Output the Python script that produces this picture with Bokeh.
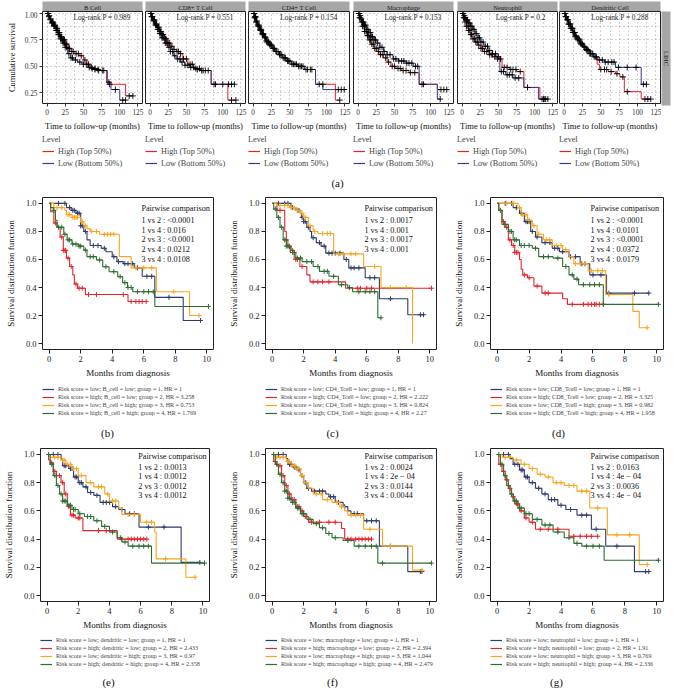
import numpy as np
from bokeh.plotting import figure
from bokeh.layouts import column, row
from bokeh.models import Range1d, Legend, LegendItem, FixedTicker, PrintfTickFormatter, Spacer
from bokeh.core.properties import value
from bokeh.embed import file_html
from bokeh.resources import INLINE

SERIF = "Liberation Serif"

# ---------------- panel (a): TIMER style KM curves ----------------
a_cells = ["B Cell", "CD8+ T Cell", "CD4+ T Cell", "Macrophage", "Neutrophil", "Dendritic Cell"]
a_pvals = ["0.989", "0.551", "0.154", "0.153", "0.2", "0.288"]
a_xticks = [0, 25, 50, 75, 100, 125]
a_yticks = [0.25, 0.50, 0.75, 1.00]

bcell_hi_t = [0, 2, 4, 6, 9, 12, 15, 18, 21, 25, 29, 33, 38, 44, 50, 55, 60, 68, 83, 108, 118]
bcell_hi_s = [1, 0.98, 0.95, 0.92, 0.89, 0.86, 0.82, 0.78, 0.75, 0.71, 0.67, 0.64, 0.62, 0.60, 0.56, 0.52, 0.48, 0.46, 0.33, 0.22, 0.22]
bcell_hi_c = [1, 3, 5, 7, 8, 10, 11, 13, 14, 16, 17, 19, 20, 22, 23, 24, 26, 27, 30, 31, 34, 36, 40, 43, 47, 52, 57, 62, 66, 71, 76, 86, 113, 118]
bcell_lo_t = [0, 2, 4, 6, 9, 12, 15, 18, 21, 25, 28, 32, 36, 42, 48, 56, 64, 72, 82, 88, 100, 108]
bcell_lo_s = [1, 0.97, 0.94, 0.91, 0.88, 0.84, 0.80, 0.76, 0.72, 0.68, 0.62, 0.58, 0.56, 0.54, 0.52, 0.49, 0.47, 0.46, 0.35, 0.28, 0.18, 0.18]
bcell_lo_c = [1.5, 2.5, 4.5, 6.5, 8, 9.5, 11, 12.5, 14, 15.5, 17, 18.5, 20, 22, 24, 25, 27, 30, 33, 35, 39, 45, 50, 54, 58, 61, 66, 70, 78, 85, 94, 104, 108]

cd8_hi_t = [0, 2, 4, 7, 10, 13, 16, 20, 24, 28, 32, 36, 40, 45, 52, 60, 70, 84, 107, 118]
cd8_hi_s = [1, 0.97, 0.94, 0.90, 0.87, 0.83, 0.80, 0.76, 0.72, 0.69, 0.66, 0.64, 0.62, 0.57, 0.52, 0.48, 0.46, 0.33, 0.18, 0.18]
cd8_hi_c = [1, 2, 3, 5, 6, 8, 9, 11, 12, 14, 15, 17, 18, 21, 22, 25, 27, 30, 33, 37, 39, 42, 46, 50, 55, 58, 63, 68, 73, 80, 88, 112, 118]
cd8_lo_t = [0, 2, 4, 7, 10, 13, 16, 20, 24, 28, 32, 36, 42, 48, 55, 62, 70, 84, 116]
cd8_lo_s = [1, 0.97, 0.93, 0.89, 0.85, 0.81, 0.77, 0.72, 0.68, 0.64, 0.60, 0.57, 0.54, 0.51, 0.49, 0.47, 0.46, 0.33, 0.33]
cd8_lo_c = [1.5, 3, 4.5, 6, 7.5, 9, 10.5, 12, 13.5, 15, 16.5, 18, 19.5, 21, 23, 26, 28, 31, 34, 38, 41, 44, 48, 52, 56, 60, 65, 71, 76, 90, 100, 108, 112, 116]

cd4_hi_t = [0, 2, 4, 6, 9, 12, 15, 18, 22, 26, 30, 35, 40, 46, 52, 60, 70, 85, 112, 118]
cd4_hi_s = [1, 0.96, 0.92, 0.88, 0.84, 0.80, 0.77, 0.73, 0.70, 0.67, 0.64, 0.61, 0.58, 0.55, 0.52, 0.50, 0.47, 0.33, 0.18, 0.18]
cd4_hi_c = [1, 2, 3, 4, 5, 7, 8, 10, 11, 13, 14, 16, 17, 19, 21, 23, 25, 28, 31, 34, 37, 41, 44, 48, 53, 57, 62, 66, 74, 80, 95, 118]
cd4_lo_t = [0, 2, 4, 6, 9, 12, 15, 18, 22, 26, 30, 35, 40, 46, 52, 60, 70, 85, 95, 124]
cd4_lo_s = [1, 0.97, 0.93, 0.89, 0.85, 0.81, 0.78, 0.74, 0.71, 0.67, 0.64, 0.61, 0.58, 0.55, 0.52, 0.50, 0.47, 0.33, 0.28, 0.28]
cd4_lo_c = [1.5, 2.5, 3.5, 5, 6.5, 8, 9.5, 11, 12.5, 14, 16, 18, 20, 22, 24, 27, 29, 32, 36, 39, 43, 47, 50, 55, 59, 64, 68, 72, 78, 90, 116, 120, 124]

mac_hi_t = [0, 2, 4, 6, 9, 12, 15, 18, 22, 26, 30, 35, 40, 45, 52, 60, 70, 84, 109, 122]
mac_hi_s = [1, 0.96, 0.92, 0.88, 0.83, 0.79, 0.75, 0.71, 0.67, 0.64, 0.61, 0.58, 0.54, 0.50, 0.48, 0.46, 0.44, 0.33, 0.28, 0.28]
mac_hi_c = [1, 2, 3, 5, 6, 8, 9, 11, 13, 14, 16, 17, 19, 21, 23, 25, 28, 31, 34, 38, 42, 47, 50, 55, 58, 62, 66, 72, 78, 88, 114, 118, 122]
mac_lo_t = [0, 2, 4, 6, 9, 12, 15, 18, 22, 26, 30, 35, 40, 48, 56, 66, 76, 84, 109, 113]
mac_lo_s = [1, 0.98, 0.95, 0.92, 0.89, 0.85, 0.82, 0.78, 0.75, 0.72, 0.68, 0.64, 0.61, 0.57, 0.55, 0.53, 0.50, 0.33, 0.19, 0.19]
mac_lo_c = [1.5, 3, 4.5, 6, 7.5, 9, 10.5, 12, 13.5, 15, 17, 19, 20, 22, 24, 27, 30, 33, 36, 40, 44, 49, 52, 56, 60, 63, 67, 70, 74, 79, 82, 90, 113]

neu_hi_t = [0, 2, 4, 6, 9, 12, 15, 18, 22, 26, 30, 36, 42, 48, 55, 65, 75, 85, 107, 115]
neu_hi_s = [1, 0.96, 0.92, 0.88, 0.84, 0.80, 0.76, 0.73, 0.70, 0.67, 0.64, 0.61, 0.59, 0.57, 0.49, 0.47, 0.45, 0.30, 0.19, 0.19]
neu_hi_c = [1, 2, 3, 4, 6, 7, 9, 10, 12, 13, 15, 17, 19, 21, 23, 26, 28, 31, 34, 38, 41, 45, 49, 53, 58, 62, 67, 70, 74, 80, 110, 113, 115]
neu_lo_t = [0, 2, 4, 6, 9, 12, 15, 18, 22, 26, 30, 36, 42, 48, 52, 60, 70, 85, 105, 118]
neu_lo_s = [1, 0.98, 0.96, 0.94, 0.91, 0.88, 0.85, 0.81, 0.77, 0.73, 0.69, 0.65, 0.62, 0.59, 0.45, 0.42, 0.39, 0.30, 0.19, 0.19]
neu_lo_c = [1.5, 3, 4.5, 6, 7.5, 9, 10.5, 12, 13.5, 15, 16.5, 18, 20, 22, 24, 26, 29, 32, 35, 38, 42, 46, 50, 54, 57, 62, 65, 69, 73, 78, 90, 112, 118]

den_hi_t = [0, 2, 4, 6, 9, 12, 15, 18, 22, 26, 30, 35, 40, 45, 48, 60, 70, 76, 82, 105, 118]
den_hi_s = [1, 0.97, 0.94, 0.90, 0.86, 0.82, 0.78, 0.75, 0.71, 0.68, 0.65, 0.62, 0.59, 0.52, 0.47, 0.45, 0.43, 0.40, 0.26, 0.19, 0.19]
den_hi_c = [1, 2, 3, 5, 6, 8, 9, 11, 12, 14, 15, 17, 19, 21, 23, 25, 28, 31, 33, 36, 39, 43, 50, 55, 58, 64, 72, 80, 86, 110, 114, 118]
den_lo_t = [0, 2, 4, 6, 9, 12, 15, 18, 22, 26, 30, 35, 40, 46, 55, 70, 105, 112]
den_lo_s = [1, 0.97, 0.94, 0.90, 0.86, 0.82, 0.79, 0.76, 0.72, 0.69, 0.66, 0.62, 0.59, 0.56, 0.54, 0.49, 0.33, 0.33]
den_lo_c = [1.5, 2.5, 4, 5.5, 7, 8.5, 10, 11.5, 13, 14.5, 16, 18, 20, 22, 24, 27, 30, 32, 35, 38, 41, 44, 48, 52, 56, 60, 65, 68, 74, 86, 98, 108, 112]

# ---------------- panels (b)-(g): four-group KM curves ----------------
bg_xticks = [0, 2, 4, 6, 8, 10]
bg_yticks = [0.0, 0.2, 0.4, 0.6, 0.8, 1.0]

b_g1_t = [0, 1.1, 1.4, 1.7, 2.0, 2.2, 2.4, 2.6, 3.3, 3.6, 4.0, 4.3, 4.7, 5.4, 5.9, 6.7, 8.5, 9.6]
b_g1_s = [1, 0.97, 0.95, 0.93, 0.84, 0.80, 0.74, 0.70, 0.68, 0.655, 0.62, 0.585, 0.57, 0.54, 0.48, 0.33, 0.165, 0.165]
b_g1_c = [0.6, 1.0, 1.3, 1.5, 1.6, 1.8, 1.9, 2.0, 2.1, 2.3, 2.8, 3.1, 3.5, 4.1, 4.4, 4.8, 5.0, 5.3, 5.6, 6.2, 6.5, 7.6, 9.6]
b_g2_t = [0, 0.1, 0.3, 0.5, 0.7, 0.9, 1.1, 1.3, 1.5, 1.6, 1.8, 2.3, 5.0, 6.15]
b_g2_s = [1, 0.94, 0.86, 0.83, 0.76, 0.665, 0.61, 0.55, 0.49, 0.425, 0.395, 0.35, 0.30, 0.30]
b_g2_c = [0.4, 0.8, 0.9, 1.0, 1.05, 1.2, 1.4, 1.7, 1.9, 2.1, 2.5, 3.0, 4.7, 5.2, 5.5, 5.7, 5.9, 6.15]
b_g3_t = [0, 0.3, 1.0, 1.1, 1.45, 2.0, 2.2, 2.4, 2.6, 3.2, 4.45, 5.2, 6.8, 8.9, 9.5]
b_g3_s = [1, 0.97, 0.95, 0.92, 0.90, 0.87, 0.84, 0.82, 0.80, 0.78, 0.62, 0.54, 0.37, 0.20, 0.20]
b_g3_c = [0.5, 0.8, 1.2, 1.3, 1.5, 1.6, 1.7, 1.8, 2.1, 2.3, 2.7, 3.0, 3.5, 3.7, 3.9, 4.1, 5.5, 6.0, 6.5, 7.9, 9.5]
b_g4_t = [0, 0.1, 0.27, 0.4, 0.5, 0.93, 1.14, 1.45, 1.86, 2.2, 2.4, 3.0, 3.4, 3.8, 4.35, 4.66, 4.97, 5.3, 6.7, 10.1]
b_g4_s = [1, 0.97, 0.95, 0.88, 0.83, 0.78, 0.74, 0.71, 0.695, 0.667, 0.62, 0.596, 0.548, 0.513, 0.478, 0.435, 0.40, 0.37, 0.265, 0.265]
b_g4_c = [0.3, 0.6, 0.8, 1.0, 1.2, 1.3, 1.5, 1.7, 1.9, 2.0, 2.3, 2.6, 2.8, 3.2, 3.6, 4.1, 4.5, 4.8, 5.0, 5.2, 5.6, 6.0, 6.3, 6.6, 10.1]
b_pairs = ["Pairwise comparison", "1 vs 2 : <0.0001", "1 vs 4 : 0.016", "2 vs 3 : <0.0001", "2 vs 4 : 0.0212", "3 vs 4 : 0.0108"]
b_legend = ["Risk score = low; B_cell = low; group = 1, HR = 1",
            "Risk score = high; B_cell = low; group = 2, HR = 3.258",
            "Risk score = low; B_cell = high; group = 3, HR = 0.753",
            "Risk score = high; B_cell = high; group = 4, HR = 1.769"]

c_g1_t = [0, 1.2, 1.5, 1.8, 1.86, 2.0, 2.2, 2.4, 2.5, 2.8, 3.1, 3.4, 4.55, 4.86, 5.9, 6.8, 8.6, 9.6]
c_g1_s = [1, 0.97, 0.95, 0.93, 0.90, 0.87, 0.83, 0.80, 0.755, 0.72, 0.695, 0.645, 0.60, 0.54, 0.47, 0.32, 0.206, 0.206]
c_g1_c = [0.4, 0.8, 1.0, 1.3, 1.6, 1.7, 1.9, 2.0, 2.1, 2.3, 2.6, 3.0, 3.3, 3.6, 3.8, 4.0, 4.3, 4.7, 5.0, 5.2, 5.5, 6.2, 6.5, 7.5, 9.4, 9.6]
c_g2_t = [0, 0.3, 0.8, 0.9, 1.0, 1.2, 1.4, 1.76, 2.2, 2.4, 4.66, 10.1]
c_g2_s = [1, 0.95, 0.80, 0.74, 0.69, 0.665, 0.60, 0.55, 0.49, 0.44, 0.395, 0.395]
c_g2_c = [0.5, 0.9, 1.1, 1.3, 1.5, 1.6, 1.9, 2.6, 2.9, 3.2, 3.6, 5.4, 5.6, 6.0, 6.3, 10.1]
c_g3_t = [0, 0.3, 1.1, 1.5, 1.8, 2.0, 2.3, 2.6, 2.9, 3.9, 5.8, 6.9, 8.9, 8.9]
c_g3_s = [1, 0.985, 0.97, 0.95, 0.93, 0.90, 0.84, 0.80, 0.785, 0.64, 0.55, 0.40, 0.0, 0.0]
c_g3_c = [0.5, 0.8, 1.0, 1.2, 1.4, 1.6, 1.9, 2.1, 2.4, 2.7, 3.2, 3.5, 3.7, 4.2, 4.5, 5.0, 5.3, 6.5, 7.5, 8.5]
c_g4_t = [0, 0.1, 0.3, 0.5, 0.7, 0.9, 1.15, 1.5, 1.9, 2.6, 3.0, 3.6, 4.2, 4.8, 5.1, 6.7, 6.9]
c_g4_s = [1, 0.96, 0.90, 0.83, 0.74, 0.695, 0.65, 0.61, 0.585, 0.55, 0.515, 0.48, 0.42, 0.40, 0.37, 0.184, 0.184]
c_g4_c = [0.2, 0.4, 0.6, 0.8, 0.9, 1.0, 1.1, 1.3, 1.4, 1.6, 1.8, 2.2, 2.5, 2.9, 3.3, 3.5, 3.9, 4.4, 4.9, 5.5, 5.9, 6.2, 6.5, 6.9]
c_pairs = ["Pairwise comparison", "1 vs 2 : 0.0017", "1 vs 4 : 0.001", "2 vs 3 : 0.0017", "3 vs 4 : 0.001"]
c_legend = ["Risk score = low; CD4_Tcell = low; group = 1, HR = 1",
            "Risk score = high; CD4_Tcell = low; group = 2, HR = 2.222",
            "Risk score = low; CD4_Tcell = high; group = 3, HR = 0.824",
            "Risk score = high; CD4_Tcell = high; group = 4, HR = 2.27"]

d_g1_t = [0, 1.0, 1.4, 1.7, 2.1, 2.4, 2.8, 3.45, 3.9, 4.5, 5.2, 5.8, 6.85, 9.5]
d_g1_s = [1, 0.97, 0.93, 0.87, 0.80, 0.76, 0.72, 0.68, 0.655, 0.62, 0.57, 0.49, 0.36, 0.36]
d_g1_c = [0.5, 0.9, 1.2, 1.5, 1.8, 1.9, 2.0, 2.2, 2.5, 3.0, 3.3, 3.6, 3.8, 4.1, 4.6, 4.9, 5.3, 5.5, 6.0, 6.5, 7.0, 8.6, 9.5]
d_g2_t = [0, 0.1, 0.3, 0.45, 0.7, 0.9, 1.1, 1.4, 1.5, 1.6, 1.9, 2.3, 2.8, 4.1, 4.4, 6.65]
d_g2_s = [1, 0.95, 0.87, 0.83, 0.74, 0.70, 0.65, 0.60, 0.53, 0.49, 0.47, 0.41, 0.36, 0.32, 0.28, 0.28]
d_g2_c = [0.4, 0.6, 0.8, 1.0, 1.1, 1.2, 1.3, 1.7, 2.0, 2.5, 3.0, 3.2, 4.7, 5.4, 5.7, 5.9, 6.1, 6.2, 6.4, 6.65]
d_g3_t = [0, 1.3, 1.5, 1.9, 2.2, 2.5, 2.9, 3.45, 4.1, 4.5, 4.8, 5.7, 6.8, 8.5, 8.9, 9.4]
d_g3_s = [1, 0.97, 0.92, 0.88, 0.84, 0.78, 0.74, 0.70, 0.67, 0.62, 0.57, 0.52, 0.35, 0.23, 0.113, 0.113]
d_g3_c = [0.6, 1.0, 1.4, 1.6, 1.8, 2.0, 2.3, 2.6, 3.1, 3.3, 3.7, 4.0, 4.3, 4.9, 5.2, 5.5, 5.9, 6.3, 6.6, 7.0, 9.4]
d_g4_t = [0, 0.1, 0.3, 0.7, 1.0, 1.4, 2.2, 2.6, 3.5, 4.1, 4.5, 4.8, 5.1, 6.65, 10.1]
d_g4_s = [1, 0.95, 0.85, 0.80, 0.74, 0.70, 0.68, 0.62, 0.61, 0.55, 0.49, 0.46, 0.42, 0.28, 0.28]
d_g4_c = [0.2, 0.5, 0.8, 0.9, 1.1, 1.2, 1.5, 1.7, 2.0, 2.4, 2.9, 3.2, 3.8, 4.3, 4.7, 5.0, 5.4, 5.8, 6.1, 6.4, 6.65, 10.1]
d_pairs = ["Pairwise comparison", "1 vs 2 : <0.0001", "1 vs 4 : 0.0101", "2 vs 3 : <0.0001", "2 vs 4 : 0.0372", "3 vs 4 : 0.0179"]
d_legend = ["Risk score = low; CD8_Tcell = low; group = 1, HR = 1",
            "Risk score = high; CD8_Tcell = low; group = 2, HR = 3.325",
            "Risk score = low; CD8_Tcell = high; group = 3, HR = 0.982",
            "Risk score = high; CD8_Tcell = high; group = 4, HR = 1.958"]

e_g1_t = [0, 0.9, 1.0, 1.4, 1.7, 2.0, 2.3, 2.6, 3.0, 3.4, 4.2, 4.6, 5.0, 5.9, 8.6, 9.8]
e_g1_s = [1, 0.97, 0.92, 0.90, 0.84, 0.80, 0.77, 0.73, 0.71, 0.66, 0.63, 0.61, 0.58, 0.485, 0.235, 0.235]
e_g1_c = [0.4, 0.7, 1.1, 1.2, 1.5, 1.6, 1.8, 1.9, 2.1, 2.2, 2.5, 2.8, 3.2, 3.6, 3.8, 4.0, 4.4, 4.8, 5.3, 5.6, 6.5, 7.5, 9.8]
e_g2_t = [0, 0.1, 0.2, 0.4, 0.6, 0.9, 1.1, 1.3, 1.5, 1.8, 2.3, 4.5, 6.4]
e_g2_s = [1, 0.96, 0.94, 0.88, 0.85, 0.80, 0.72, 0.63, 0.57, 0.55, 0.46, 0.40, 0.40]
e_g2_c = [0.3, 0.5, 0.8, 1.0, 1.2, 1.4, 1.6, 1.7, 2.0, 2.1, 3.3, 3.8, 4.8, 5.2, 5.4, 5.6, 5.8, 6.0, 6.2, 6.4]
e_g3_t = [0, 0.2, 0.9, 1.2, 1.6, 2.0, 2.5, 3.0, 3.7, 4.0, 4.6, 4.8, 6.0, 6.9, 7.0, 8.9, 9.5]
e_g3_s = [1, 0.98, 0.96, 0.93, 0.90, 0.85, 0.80, 0.77, 0.72, 0.67, 0.62, 0.575, 0.52, 0.45, 0.26, 0.13, 0.13]
e_g3_c = [0.5, 0.7, 1.0, 1.1, 1.3, 1.5, 1.7, 1.9, 2.2, 2.8, 3.3, 3.5, 3.9, 4.2, 4.4, 5.2, 5.6, 6.4, 6.7, 7.6, 9.5]
e_g4_t = [0, 0.2, 0.4, 0.6, 0.8, 1.0, 1.3, 1.6, 2.0, 2.4, 3.0, 3.5, 4.0, 4.5, 4.8, 5.2, 6.7, 10.1]
e_g4_s = [1, 0.93, 0.85, 0.78, 0.72, 0.67, 0.64, 0.61, 0.58, 0.56, 0.53, 0.49, 0.45, 0.41, 0.38, 0.35, 0.23, 0.23]
e_g4_c = [0.1, 0.3, 0.5, 0.7, 0.9, 1.0, 1.1, 1.2, 1.4, 1.5, 1.7, 1.8, 2.1, 2.6, 2.8, 3.2, 3.7, 4.2, 4.7, 5.0, 5.5, 5.9, 6.2, 6.5, 10.1]
e_pairs = ["Pairwise comparison", "1 vs 2 : 0.0013", "1 vs 4 : 0.0012", "2 vs 3 : 0.0012", "3 vs 4 : 0.0012"]
e_legend = ["Risk score = low; dendritic = low; group = 1, HR = 1",
            "Risk score = high; dendritic = low; group = 2, HR = 2.433",
            "Risk score = low; dendritic = high; group = 3, HR = 0.97",
            "Risk score = high; dendritic = high; group = 4, HR = 2.358"]

f_g1_t = [0, 0.9, 1.0, 1.3, 1.6, 1.8, 2.0, 2.2, 2.5, 3.4, 3.6, 4.0, 4.5, 4.8, 5.0, 5.8, 6.8, 8.6, 9.5]
f_g1_s = [1, 0.97, 0.93, 0.91, 0.89, 0.85, 0.80, 0.76, 0.74, 0.72, 0.70, 0.66, 0.63, 0.60, 0.58, 0.53, 0.35, 0.17, 0.17]
f_g1_c = [0.4, 0.7, 1.1, 1.2, 1.4, 1.5, 1.7, 1.9, 2.1, 2.3, 2.7, 3.0, 3.2, 3.7, 3.9, 4.2, 4.6, 5.2, 5.4, 6.0, 6.3, 6.6, 7.5, 9.4, 9.5]
f_g2_t = [0, 0.1, 0.3, 0.6, 0.8, 1.0, 1.2, 1.5, 1.8, 2.0, 2.3, 4.4, 4.6, 6.3]
f_g2_s = [1, 0.95, 0.92, 0.85, 0.78, 0.72, 0.68, 0.63, 0.60, 0.56, 0.52, 0.475, 0.40, 0.40]
f_g2_c = [0.2, 0.5, 0.7, 0.9, 1.1, 1.3, 1.4, 1.6, 1.7, 1.9, 2.1, 2.5, 3.0, 3.6, 4.0, 4.8, 5.0, 5.3, 5.5, 5.7, 5.9, 6.1, 6.3]
f_g3_t = [0, 0.2, 0.9, 1.2, 1.5, 1.8, 2.0, 2.3, 2.6, 3.2, 3.8, 4.3, 4.6, 4.8, 5.8, 7.0, 8.9, 9.5]
f_g3_s = [1, 0.98, 0.95, 0.92, 0.90, 0.85, 0.80, 0.76, 0.72, 0.68, 0.66, 0.63, 0.60, 0.57, 0.47, 0.35, 0.18, 0.18]
f_g3_c = [0.3, 0.5, 0.7, 1.0, 1.1, 1.3, 1.4, 1.6, 1.7, 1.9, 2.2, 2.8, 3.1, 3.5, 4.1, 4.4, 5.0, 5.3, 5.6, 6.2, 7.5, 9.5]
f_g4_t = [0, 0.2, 0.4, 0.6, 0.8, 1.0, 1.2, 1.5, 1.8, 2.2, 2.6, 3.0, 3.4, 3.8, 4.5, 5.2, 6.7, 10.1]
f_g4_s = [1, 0.93, 0.86, 0.80, 0.74, 0.69, 0.66, 0.62, 0.58, 0.54, 0.51, 0.48, 0.44, 0.41, 0.39, 0.35, 0.23, 0.23]
f_g4_c = [0.1, 0.3, 0.5, 0.7, 0.8, 0.9, 1.0, 1.1, 1.3, 1.4, 1.6, 1.7, 1.9, 2.0, 2.4, 2.8, 3.2, 3.6, 4.0, 4.8, 5.5, 5.9, 6.3, 6.6, 7.0, 10.1]
f_pairs = ["Pairwise comparison", "1 vs 2 : 0.0024", "1 vs 4 : 2e \u2212 04", "2 vs 3 : 0.0144", "3 vs 4 : 0.0044"]
f_legend = ["Risk score = low; macrophage = low; group = 1, HR = 1",
            "Risk score = high; macrophage = low; group = 2, HR = 2.394",
            "Risk score = low; macrophage = high; group = 3, HR = 1.044",
            "Risk score = high; macrophage = high; group = 4, HR = 2.479"]

g_g1_t = [0, 0.8, 1.0, 1.4, 1.7, 2.0, 2.4, 2.8, 3.2, 3.8, 4.3, 5.0, 5.9, 6.8, 8.6, 9.5]
g_g1_s = [1, 0.97, 0.93, 0.89, 0.84, 0.80, 0.76, 0.72, 0.68, 0.64, 0.61, 0.57, 0.47, 0.35, 0.17, 0.17]
g_g1_c = [0.4, 0.7, 1.1, 1.3, 1.5, 1.6, 1.8, 1.9, 2.2, 2.6, 3.0, 3.4, 3.6, 4.0, 4.6, 5.3, 5.6, 6.2, 7.5, 9.3, 9.5]
g_g2_t = [0, 0.1, 0.3, 0.5, 0.7, 0.9, 1.1, 1.4, 1.7, 2.0, 2.4, 4.5, 6.3]
g_g2_s = [1, 0.93, 0.88, 0.82, 0.76, 0.70, 0.65, 0.60, 0.55, 0.52, 0.47, 0.42, 0.42]
g_g2_c = [0.2, 0.4, 0.6, 0.8, 1.0, 1.2, 1.3, 1.5, 1.8, 2.2, 2.7, 3.2, 3.8, 4.8, 5.2, 5.6, 5.9, 6.3]
g_g3_t = [0, 0.3, 1.0, 1.5, 2.0, 2.5, 3.0, 3.5, 4.2, 5.0, 5.8, 6.9, 8.9, 9.4]
g_g3_s = [1, 0.98, 0.96, 0.93, 0.90, 0.86, 0.84, 0.80, 0.78, 0.74, 0.62, 0.43, 0.22, 0.22]
g_g3_c = [0.5, 0.8, 1.2, 1.7, 2.2, 2.7, 3.2, 3.7, 4.0, 4.5, 4.8, 5.3, 5.6, 6.3, 7.5, 8.3, 9.4]
g_g4_t = [0, 0.2, 0.4, 0.6, 0.8, 1.0, 1.3, 1.7, 2.2, 2.8, 3.5, 4.2, 4.8, 5.3, 6.7, 10.1]
g_g4_s = [1, 0.93, 0.85, 0.78, 0.72, 0.67, 0.62, 0.58, 0.54, 0.50, 0.45, 0.41, 0.37, 0.35, 0.25, 0.25]
g_g4_c = [0.1, 0.3, 0.5, 0.7, 0.9, 1.1, 1.2, 1.4, 1.5, 1.8, 2.0, 2.5, 3.0, 3.3, 3.8, 4.5, 5.0, 5.6, 6.0, 6.4, 10.1]
g_pairs = ["Pairwise comparison", "1 vs 2 : 0.0163", "1 vs 4 : 4e \u2212 04", "2 vs 3 : 0.0036", "3 vs 4 : 4e \u2212 04"]
g_legend = ["Risk score = low; neutrophil = low; group = 1, HR = 1",
            "Risk score = high; neutrophil = low; group = 2, HR = 1.91",
            "Risk score = low; neutrophil = high; group = 3, HR = 0.769",
            "Risk score = high; neutrophil = high; group = 4, HR = 2.336"]

captions = ["(a)", "(b)", "(c)", "(d)", "(e)", "(f)", "(g)"]

# ---------------- styling / geometry ----------------
HIGH_COLOR = "#e8202a"
LOW_COLOR = "#38399a"
GROUP_COLORS = ["#2f3b6b", "#e8232a", "#f8a51d", "#2c6e2f"]
STRIP_COLOR = "#a6a6a6"
TOTAL_W = 675

A_LEFT = [42, 1, 1, 2, 2, 1]
A_FRAME = [100, 100, 101, 100, 100, 101]
A_RIGHT = [2, 2, 2, 2, 1, 1]


def censor_y(t, s, c):
    idx = np.searchsorted(np.asarray(t, dtype=float), np.asarray(c, dtype=float), side="right") - 1
    return np.asarray(s, dtype=float)[idx]


def blank_fig(width, height, xr=(0, 1), yr=(0, 1), **kw):
    for k in ("min_border_left", "min_border_right", "min_border_top", "min_border_bottom"):
        kw.setdefault(k, 0)
    f = figure(width=width, height=height, x_range=Range1d(*xr), y_range=Range1d(*yr),
               x_axis_location=None, y_axis_location=None,
               output_backend="svg", toolbar_location=None, **kw)
    f.grid.visible = False
    f.outline_line_color = None
    return f


def style_axes(p, tick_size, label_size, tick_out, color):
    for ax in p.axis:
        ax.axis_line_color = None
        ax.major_tick_out = tick_out
        ax.major_tick_in = 0
        ax.minor_tick_line_color = None
        ax.major_tick_line_color = color
        ax.major_label_text_font = SERIF
        ax.major_label_text_font_size = tick_size
        ax.major_label_text_color = color
        ax.major_label_standoff = 2
        ax.axis_label_text_font = SERIF
        ax.axis_label_text_font_size = label_size
        ax.axis_label_text_font_style = "normal"
        ax.axis_label_text_color = "#111111"
        ax.axis_label_standoff = 3


def legend_fig(width, height, left, top, entries, **legend_kw):
    """A blank figure that only carries a legend (keys drawn from NaN-only lines)."""
    lf = blank_fig(width, height, min_border_left=left, min_border_top=top)
    items = []
    for lab, col in entries:
        r = lf.line([np.nan, np.nan], [np.nan, np.nan], line_color=col, line_width=1.2)
        items.append(LegendItem(label=lab, renderers=[r]))
    leg = Legend(items=items, location="top_left", **legend_kw)
    leg.label_text_font = SERIF
    leg.border_line_color = None
    leg.background_fill_alpha = 0
    leg.padding = 0
    leg.margin = 0
    lf.add_layout(leg)
    return lf, leg


# ---------------- row (a) ----------------
a_data = [
    (bcell_hi_t, bcell_hi_s, bcell_hi_c, bcell_lo_t, bcell_lo_s, bcell_lo_c),
    (cd8_hi_t, cd8_hi_s, cd8_hi_c, cd8_lo_t, cd8_lo_s, cd8_lo_c),
    (cd4_hi_t, cd4_hi_s, cd4_hi_c, cd4_lo_t, cd4_lo_s, cd4_lo_c),
    (mac_hi_t, mac_hi_s, mac_hi_c, mac_lo_t, mac_lo_s, mac_lo_c),
    (neu_hi_t, neu_hi_s, neu_hi_c, neu_lo_t, neu_lo_s, neu_lo_c),
    (den_hi_t, den_hi_s, den_hi_c, den_lo_t, den_lo_s, den_lo_c),
]

a_cols = []
for i, (cell, pval, d) in enumerate(zip(a_cells, a_pvals, a_data)):
    left, fw, right = A_LEFT[i], A_FRAME[i], A_RIGHT[i]
    w = left + fw + right
    st = blank_fig(w, 11, min_border_left=left, min_border_right=right)
    st.background_fill_color = STRIP_COLOR
    st.text(x=[0.5], y=[0.5], text=[cell], text_align="center", text_baseline="middle",
            text_font=value(SERIF), text_font_size="6.6px", text_color="#1a1a1a")

    p = figure(width=w, height=122, x_range=Range1d(-6.25, 131.25), y_range=Range1d(0.148, 1.019),
               min_border_left=left, min_border_right=right, min_border_top=0, min_border_bottom=28,
               y_axis_location="left" if i == 0 else None,
               output_backend="svg", toolbar_location=None)
    p.outline_line_color = "#222222"
    p.outline_line_width = 1
    p.xgrid.ticker = FixedTicker(ticks=list(np.arange(0, 126, 12.5)))
    p.ygrid.ticker = FixedTicker(ticks=list(np.arange(0.125, 1.01, 0.125)))
    p.grid.grid_line_color = "#8a8a8a"
    p.grid.grid_line_dash = "1 3"
    p.grid.grid_line_width = 0.8
    p.xaxis.ticker = FixedTicker(ticks=a_xticks)
    p.xaxis.axis_label = "Time to follow-up (months)"
    style_axes(p, "7.3px", "8.5px", 3, "#333333")
    if i == 0:
        p.yaxis.ticker = FixedTicker(ticks=a_yticks)
        p.yaxis.formatter = PrintfTickFormatter(format="%.2f")
        p.yaxis.axis_label = "Cumulative survival"
        p.yaxis.axis_label_standoff = 5

    hi_t, hi_s, hi_c, lo_t, lo_s, lo_c = d
    p.step(hi_t, hi_s, mode="after", line_color=HIGH_COLOR, line_width=1)
    p.step(lo_t, lo_s, mode="after", line_color=LOW_COLOR, line_width=1)
    p.scatter(hi_c, censor_y(hi_t, hi_s, hi_c), marker="cross", size=6, line_color="black", line_width=0.9)
    p.scatter(lo_c, censor_y(lo_t, lo_s, lo_c), marker="cross", size=6, line_color="black", line_width=0.9)
    p.text(x=[115], y=[0.963], text=["Log-rank P = " + pval], text_align="right", text_baseline="middle",
           text_font=value(SERIF), text_font_size="7.3px", text_color="#222222")

    lf, leg = legend_fig(w, 39, left, 2,
                         [("High (Top 50%)", HIGH_COLOR), ("Low (Bottom 50%)", LOW_COLOR)],
                         title="Level")
    leg.title_text_font = SERIF
    leg.title_text_font_size = "8.2px"
    leg.title_text_font_style = "normal"
    leg.title_standoff = 2
    leg.label_text_font_size = "8.2px"
    leg.glyph_width = 12
    leg.glyph_height = 10
    leg.label_height = 10
    leg.label_standoff = 4
    leg.spacing = 2
    a_cols.append(column(st, p, lf))

lihc = blank_fig(10, 122, min_border_left=0, min_border_right=1, min_border_top=0, min_border_bottom=28)
lihc.background_fill_color = STRIP_COLOR
lihc.text(x=[0.5], y=[0.5], text=["LIHC"], angle=-np.pi / 2, text_align="center", text_baseline="middle",
          text_font=value(SERIF), text_font_size="6.5px", text_color="#1a1a1a")
lihc_col = column(Spacer(width=10, height=11), lihc, Spacer(width=10, height=39))

cap_a = blank_fig(TOTAL_W, 21, xr=(0, TOTAL_W))
cap_a.text(x=[337], y=[0.5], text=[captions[0]], text_align="center", text_baseline="middle",
           text_font=value(SERIF), text_font_size="11px", text_color="#111111")


# ---------------- rows (b)-(g) ----------------
def group_panel(width, left, right, top, frame_h, leg_left, leg_top, leg_h, pair_y, curves, pairs, labels):
    p = figure(width=width, height=top + frame_h + 30,
               x_range=Range1d(-0.42, 10.42), y_range=Range1d(-0.042, 1.042),
               min_border_left=left, min_border_right=right, min_border_top=top, min_border_bottom=30,
               output_backend="svg", toolbar_location=None)
    p.grid.visible = False
    p.outline_line_color = "#222222"
    p.outline_line_width = 1
    p.xaxis.ticker = FixedTicker(ticks=bg_xticks)
    p.yaxis.ticker = FixedTicker(ticks=bg_yticks)
    p.yaxis.formatter = PrintfTickFormatter(format="%.1f")
    p.xaxis.axis_label = "Months from diagnosis"
    p.yaxis.axis_label = "Survival distribution function"
    style_axes(p, "8.5px", "9px", 4, "#222222")
    p.yaxis.axis_label_standoff = 7
    for (t, s, c), col in zip(curves, GROUP_COLORS):
        p.step(t, s, mode="after", line_color=col, line_width=1.1)
        p.scatter(c, censor_y(t, s, c), marker="cross", size=5, line_color=col, line_width=1)
    p.text(x=[5.85] * len(pairs), y=pair_y[:len(pairs)], text=pairs,
           text_align="left", text_baseline="middle", text_font=value(SERIF),
           text_font_size="8.2px", text_color="#111111")
    lf, leg = legend_fig(width, leg_h, leg_left, leg_top, list(zip(labels, GROUP_COLORS)))
    leg.label_text_font_size = "6.1px"
    leg.glyph_width = 12
    leg.glyph_height = 8
    leg.label_height = 8
    leg.label_standoff = 4
    leg.spacing = 0
    return column(p, lf)


b_curves = [(b_g1_t, b_g1_s, b_g1_c), (b_g2_t, b_g2_s, b_g2_c), (b_g3_t, b_g3_s, b_g3_c), (b_g4_t, b_g4_s, b_g4_c)]
c_curves = [(c_g1_t, c_g1_s, c_g1_c), (c_g2_t, c_g2_s, c_g2_c), (c_g3_t, c_g3_s, c_g3_c), (c_g4_t, c_g4_s, c_g4_c)]
d_curves = [(d_g1_t, d_g1_s, d_g1_c), (d_g2_t, d_g2_s, d_g2_c), (d_g3_t, d_g3_s, d_g3_c), (d_g4_t, d_g4_s, d_g4_c)]
e_curves = [(e_g1_t, e_g1_s, e_g1_c), (e_g2_t, e_g2_s, e_g2_c), (e_g3_t, e_g3_s, e_g3_c), (e_g4_t, e_g4_s, e_g4_c)]
f_curves = [(f_g1_t, f_g1_s, f_g1_c), (f_g2_t, f_g2_s, f_g2_c), (f_g3_t, f_g3_s, f_g3_c), (f_g4_t, f_g4_s, f_g4_c)]
g_curves = [(g_g1_t, g_g1_s, g_g1_c), (g_g2_t, g_g2_s, g_g2_c), (g_g3_t, g_g3_s, g_g3_c), (g_g4_t, g_g4_s, g_g4_c)]

# (width, left border, right border, legend left)
row_b_specs = [(225, 38, 12, 42), (225, 35, 14, 32), (225, 37, 12, 38)]
row_c_specs = [(225, 34, 16, 35), (225, 35, 14, 30), (225, 37, 12, 36)]
pair_y_b = [0.962, 0.879, 0.810, 0.741, 0.672, 0.603]
pair_y_c = [0.986, 0.910, 0.842, 0.774, 0.706, 0.638]

row_b = [group_panel(w, l, r, 4, 153, ll, 5, 45, pair_y_b, cv, pr, lb)
         for (w, l, r, ll), cv, pr, lb in
         zip(row_b_specs, [b_curves, c_curves, d_curves], [b_pairs, c_pairs, d_pairs], [b_legend, c_legend, d_legend])]
row_c = [group_panel(w, l, r, 8, 154, ll, 4, 40, pair_y_c, cv, pr, lb)
         for (w, l, r, ll), cv, pr, lb in
         zip(row_c_specs, [e_curves, f_curves, g_curves], [e_pairs, f_pairs, g_pairs], [e_legend, f_legend, g_legend])]

cap_b = blank_fig(TOTAL_W, 15, xr=(0, TOTAL_W))
cap_b.text(x=[107, 332, 558], y=[0.5] * 3, text=captions[1:4], text_align="center", text_baseline="middle",
           text_font=value(SERIF), text_font_size="11px", text_color="#111111")
cap_c = blank_fig(TOTAL_W, 18, xr=(0, TOTAL_W))
cap_c.text(x=[108, 332, 556], y=[0.5] * 3, text=captions[4:7], text_align="center", text_baseline="middle",
           text_font=value(SERIF), text_font_size="11px", text_color="#111111")

layout = column(
    row(*a_cols, lihc_col),
    cap_a,
    row(*row_b),
    cap_b,
    row(*row_c),
    cap_c,
)

open("out.html", "w").write(file_html(layout, INLINE))
